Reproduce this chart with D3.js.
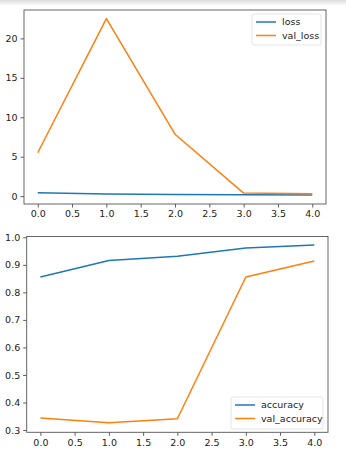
<!DOCTYPE html>
<html><head><meta charset="utf-8">
<script src="https://cdn.jsdelivr.net/npm/d3@7"></script>
<style>
html,body{margin:0;padding:0;background:#fff;}
svg{display:block;font-family:"DejaVu Sans",sans-serif;}
</style></head><body>
<svg id="c" width="346" height="463"></svg>
<script>
const epochs = [0, 1, 2, 3, 4];
const loss = [0.42, 0.26, 0.22, 0.16, 0.13];
const valLoss = [5.5, 22.5, 7.85, 0.38, 0.3];
const accuracy = [0.856, 0.916, 0.931, 0.961, 0.972];
const valAccuracy = [0.344, 0.326, 0.341, 0.856, 0.914];
const xTicks = [0, 0.5, 1, 1.5, 2, 2.5, 3, 3.5, 4];
const lossTicks = [0, 5, 10, 15, 20];
const accTicks = [0.3, 0.4, 0.5, 0.6, 0.7, 0.8, 0.9, 1.0];
const blue = "#1f77b4", orange = "#ff7f0e";

const svg = d3.select("#c");
const defs = svg.append("defs");
const g = defs.append("linearGradient").attr("id","tg").attr("x1",0).attr("y1",0).attr("x2",0).attr("y2",1);
g.append("stop").attr("offset","0%").attr("stop-color","#dcdcdc");
g.append("stop").attr("offset","100%").attr("stop-color","#fafafa");
svg.append("rect").attr("x",0).attr("y",0).attr("width",346).attr("height",5).attr("fill","url(#tg)");

function panel(box, yDomain, yTicks, yFmt, series, legend) {
  const x = d3.scaleLinear().domain([-0.2, 4.2]).range([box.l, box.r]);
  const y = d3.scaleLinear().domain(yDomain).range([box.b, box.t]);
  const root = svg.append("g");
  const xa = root.append("g").attr("transform", `translate(0,${box.b})`)
    .call(d3.axisBottom(x).tickValues(xTicks).tickFormat(d3.format(".1f")).tickSize(3.5).tickPadding(3));
  const ya = root.append("g").attr("transform", `translate(${box.l},0)`)
    .call(d3.axisLeft(y).tickValues(yTicks).tickFormat(yFmt).tickSize(3.5).tickPadding(3));
  [xa, ya].forEach(a => {
    a.select(".domain").remove();
    a.selectAll("line").attr("stroke", "#333").attr("stroke-width", 0.8);
    a.selectAll("text").attr("fill", "#222").style("font-size", "9.5px").style("font-family", "'DejaVu Sans',sans-serif");
  });
  const line = d3.line().x((d, i) => x(epochs[i])).y(d => y(d));
  series.forEach(s => {
    root.append("path").attr("d", line(s.values)).attr("fill", "none")
      .attr("stroke", s.color).attr("stroke-width", 1.5).attr("stroke-linejoin", "round");
  });
  root.append("rect").attr("x", box.l).attr("y", box.t).attr("width", box.r - box.l).attr("height", box.b - box.t)
    .attr("fill", "none").attr("stroke", "#555").attr("stroke-width", 0.9);
  // legend
  const lg = root.append("g");
  lg.append("rect").attr("x", legend.x).attr("y", legend.y).attr("width", legend.w).attr("height", legend.h)
    .attr("rx", 2).attr("fill", "#fff").attr("fill-opacity", 0.8).attr("stroke", "#ddd").attr("stroke-width", 0.8);
  series.forEach((s, i) => {
    const yy = legend.y + 8 + i * 13.5;
    lg.append("line").attr("x1", legend.x + 4).attr("x2", legend.x + 24).attr("y1", yy).attr("y2", yy)
      .attr("stroke", s.color).attr("stroke-width", 1.5);
    lg.append("text").attr("x", legend.x + 30).attr("y", yy).attr("dy", "0.35em")
      .attr("fill", "#222").style("font-size", "9.5px").text(s.name);
  });
}

panel({l: 24, r: 326, t: 10, b: 204}, [-1.0, 23.6], lossTicks, d3.format("d"),
  [{name: "loss", values: loss, color: blue}, {name: "val_loss", values: valLoss, color: orange}],
  {x: 252, y: 14, w: 69, h: 31});

panel({l: 26.7, r: 328, t: 236.5, b: 432.3}, [0.2917, 1.003], accTicks, d3.format(".1f"),
  [{name: "accuracy", values: accuracy, color: blue}, {name: "val_accuracy", values: valAccuracy, color: orange}],
  {x: 231, y: 397, w: 92, h: 32});
</script>
</body></html>
